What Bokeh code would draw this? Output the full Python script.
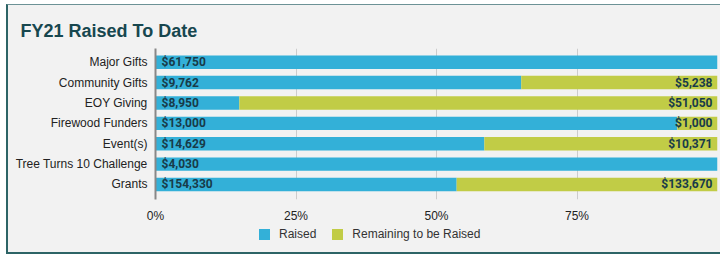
from bokeh.plotting import figure
from bokeh.models import ColumnDataSource, Range1d, FixedTicker, Div
from bokeh.layouts import column
from bokeh.core.properties import value
from bokeh.embed import file_html
from bokeh.resources import INLINE

categories = ["Major Gifts", "Community Gifts", "EOY Giving", "Firewood Funders",
              "Event(s)", "Tree Turns 10 Challenge", "Grants"]
raised = [61750, 9762, 8950, 13000, 14629, 4030, 154330]
remaining = [0, 5238, 51050, 1000, 10371, 0, 133670]
series_names = ["Raised", "Remaining to be Raised"]
x_ticks = [0, 0.25, 0.5, 0.75, 1.0]
x_tick_labels = ["0%", "25%", "50%", "75%", ""]

BLUE = "#33b0d8"
GREEN = "#c1cc46"
BG = "#f2f2f2"
LABEL = "#183b49"
colors = [BLUE, GREEN]

n = len(categories)
ypos = [n - 1 - i for i in range(n)]
totals = [r + m for r, m in zip(raised, remaining)]
frac_r = [r / t for r, t in zip(raised, totals)]
frac_m = [m / t for m, t in zip(remaining, totals)]

src = ColumnDataSource(dict(y=ypos, raised=frac_r, remaining=frac_m,
                            lab_r=["${:,}".format(v) for v in raised]))
rem_idx = [i for i in range(n) if remaining[i] > 0]
src_m = ColumnDataSource(dict(y=[ypos[i] for i in rem_idx], x=[1.0] * len(rem_idx),
                              lab=["${:,}".format(remaining[i]) for i in rem_idx]))

p = figure(width=712, height=220, output_backend="svg", toolbar_location=None,
           x_range=Range1d(0, 1), y_range=Range1d(-0.736, 6.673),
           min_border_left=147, min_border_right=3, min_border_top=43, min_border_bottom=21)
p.background_fill_color = BG
p.border_fill_color = BG
p.outline_line_color = None

rs = p.hbar_stack(["raised", "remaining"], y="y", height=0.66, color=colors,
                  line_color=None, source=src)

p.text(x=0, y="y", text="lab_r", source=src, x_offset=6, text_align="left",
       text_baseline="middle", text_font=value("Roboto"), text_font_style="bold",
       text_font_size="12px", text_color=LABEL)
p.text(x="x", y="y", text="lab", source=src_m, x_offset=-5, text_align="right",
       text_baseline="middle", text_font=value("Roboto"), text_font_style="bold",
       text_font_size="12px", text_color=LABEL)

p.title.text = "FY21 Raised To Date"
p.title.text_font = "Liberation Sans"
p.title.text_font_size = "18px"
p.title.text_font_style = "bold"
p.title.text_color = "#17474f"
p.title.offset = -135
p.title.standoff = 16

# y axis
p.yaxis.ticker = FixedTicker(ticks=ypos)
p.yaxis.major_label_overrides = {ypos[i]: categories[i] for i in range(n)}
p.yaxis.axis_line_color = "#888888"
p.yaxis.axis_line_width = 2
p.yaxis.major_tick_line_color = None
p.yaxis.minor_tick_line_color = None
p.yaxis.major_label_text_font = "Liberation Sans"
p.yaxis.major_label_text_font_size = "12px"
p.yaxis.major_label_text_color = "#222222"
p.yaxis.major_label_standoff = 2
p.ygrid.grid_line_color = None

# x axis
p.xaxis.ticker = FixedTicker(ticks=x_ticks)
p.xaxis.major_label_overrides = {x_ticks[i]: x_tick_labels[i] for i in range(len(x_ticks))}
p.xaxis.axis_line_color = None
p.xaxis.major_tick_line_color = None
p.xaxis.minor_tick_line_color = None
p.xaxis.major_label_text_font = "Liberation Sans"
p.xaxis.major_label_text_font_size = "12px"
p.xaxis.major_label_text_color = "#222222"
p.xaxis.major_label_standoff = 3
p.xgrid.grid_line_color = "#cccccc"
p.xgrid.grid_line_width = 1

# legend (HTML, below the plot, inside the same bordered box)
sq = ('<span style="display:inline-block;width:11px;height:11px;background:{c};'
      'margin-left:{m}px"></span><span style="margin-left:9px">{t}</span>')
legend_html = ('<div style="display:flex;align-items:center;font-family:\'Liberation Sans\';'
               'font-size:12px;color:#333333;padding-left:251px;padding-top:1px;">'
               + sq.format(c=colors[0], m=0, t=series_names[0])
               + sq.format(c=colors[1], m=16, t=series_names[1]) + '</div>')
leg = Div(text=legend_html, width=712, height=27, margin=0,
          styles={"background-color": BG})

layout = column(p, leg, spacing=0)
layout.styles = {"border-left": "2px solid #2d6466", "border-bottom": "2px solid #2d6466",
                 "border-top": "1px solid #6c9296", "margin-left": "6px", "margin-top": "4px",
                 "background-color": BG}

open("out.html", "w").write(file_html(layout, INLINE))
